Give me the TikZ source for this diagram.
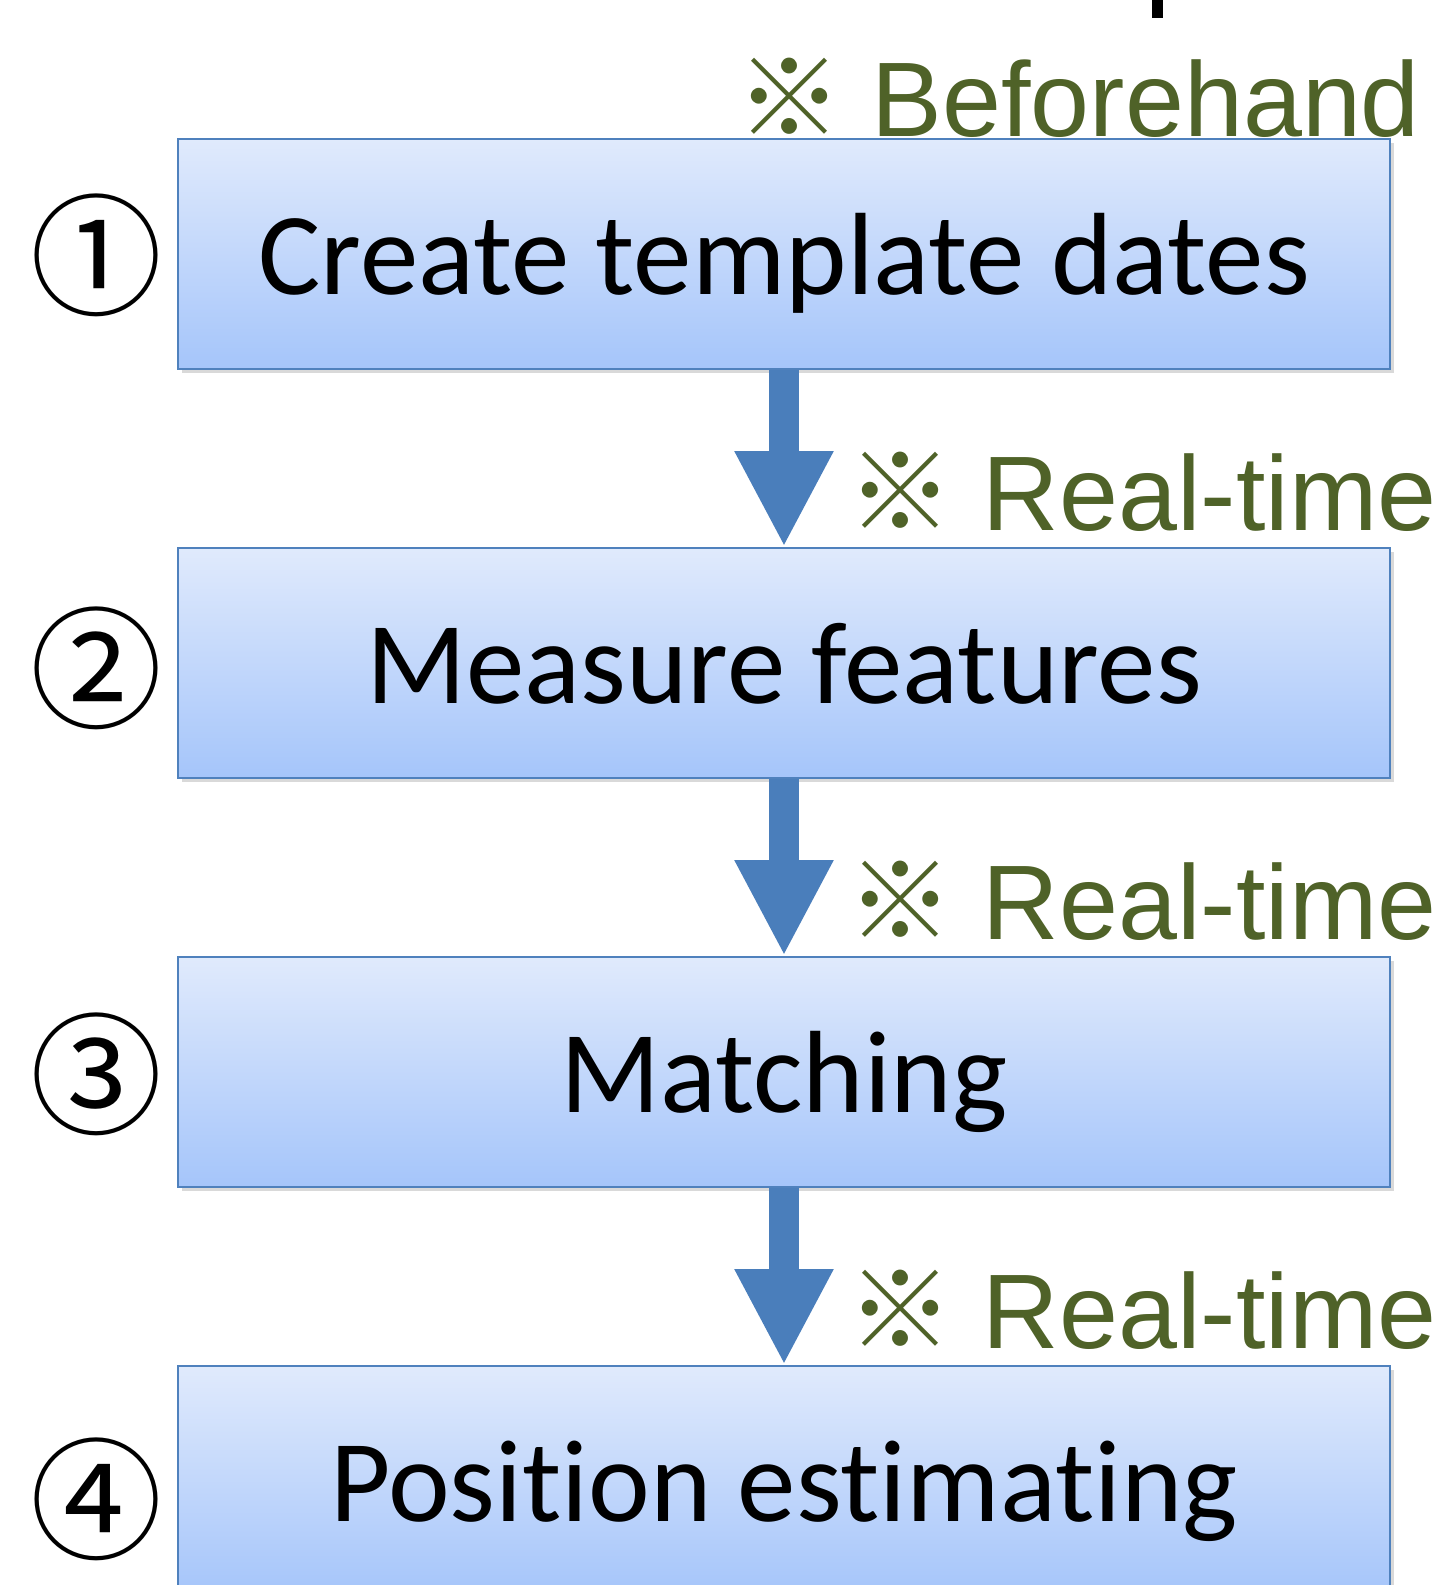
\documentclass[tikz,border=0pt]{standalone}
\usepackage{fontspec}
\setmainfont[Ligatures=NoCommon]{Carlito}
\newfontfamily\labelfont{Liberation Sans}
\newfontfamily\cjk{Noto Sans CJK JP}
\usetikzlibrary{positioning,arrows.meta,shadows}

\definecolor{boxtop}{RGB}{224,234,252}
\definecolor{boxbottom}{RGB}{165,197,250}
\definecolor{boxline}{RGB}{79,129,189}
\definecolor{flowblue}{RGB}{74,126,187}
\definecolor{timegreen}{RGB}{79,98,40}

\tikzset{
  stepbox/.style={draw=boxline, line width=1pt, top color=boxtop, bottom color=boxbottom,
    minimum width=606pt, minimum height=115pt, inner sep=0pt,
    font=\fontsize{58.5}{58.5}\selectfont, text height=50pt, text depth=10pt,
    drop shadow={shadow xshift=2pt, shadow yshift=-2pt, opacity=.25, fill=black!60}},
  flow/.style={flowblue, line width=15pt, -{Triangle[width=46pt,length=48pt]}},
  timing/.style={anchor=base west, inner sep=0pt, text=timegreen,
    font=\labelfont\fontsize{53}{53}\selectfont},
  stepnum/.style={inner sep=0pt, font=\cjk\fontsize{66}{66}\selectfont}
}

\begin{document}
\begin{tikzpicture}[x=0.5pt,y=-0.5pt]
\useasboundingbox (0,0) rectangle (1437,1585);

% the four steps
\node[stepbox] (s1) at (784,254) {Create template dates};
\node[stepbox, below=88.5pt of s1] (s2) {Measure features};
\node[stepbox, below=88.5pt of s2] (s3) {Matching};
\node[stepbox, below=88.5pt of s3] (s4) {Position estimating};

\draw[flow] (s1.south) -- (s2.north);
\draw[flow] (s2.south) -- (s3.north);
\draw[flow] (s3.south) -- (s4.north);

% when each step runs
\node[timing] (t1) at ([xshift=-24pt, yshift=1pt]s1.north) {{\cjk ※} Beforehand};
\node[timing] (t2) at ([xshift=31.5pt, yshift=8.5pt]s2.north) {{\cjk ※} Real-time};
\node[timing] (t3) at ([xshift=31.5pt, yshift=8.5pt]s3.north) {{\cjk ※} Real-time};
\node[timing] (t4) at ([xshift=31.5pt, yshift=8.5pt]s4.north) {{\cjk ※} Real-time};

% step numbers
\node[stepnum] (n1) at (96,255) {①};
\node[stepnum] (n2) at (96,668) {②};
\node[stepnum] (n3) at (96,1074) {③};
\node[stepnum] (n4) at (96,1499) {④};

% edge of the title above
\fill (1152,0) rectangle (1163,18);
\end{tikzpicture}
\end{document}
